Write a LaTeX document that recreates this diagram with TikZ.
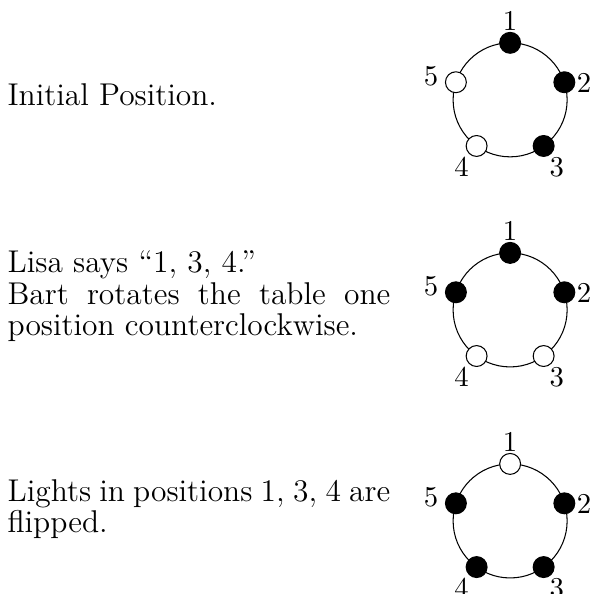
\documentclass[tikz,border=0pt]{standalone}
\usetikzlibrary{calc}
\tikzset{
  tablering/.style={draw, circle, minimum size=1.528cm, inner sep=0pt},
  lamp/.style={draw, circle, minimum size=0.28cm, inner sep=0pt},
  lampnum/.style={inner sep=0pt, font=\fontsize{10.95}{13}\selectfont},
  caption/.style={anchor=north west, inner sep=0pt, text width=5.13cm, align=justify,
    font=\fontsize{12}{12}\selectfont}
}
\begin{document}
\begin{tikzpicture}[line cap=round, line join=round]
  \useasboundingbox (0,0) rectangle (7.94,7.96);
  % one table per step: 100 = light on, 0 = light off
  \foreach \r/\y/\states in {1/6.622/{100,100,100,0,0}, 2/3.807/{100,100,0,0,100}, 3/0.979/{0,100,100,100,100}} {
    \node[tablering] (tab\r) at (6.836,\y) {};
    \foreach \ang/\lang/\lrad [count=\i] in {90/90/1.059, 18/12.9/1.018, -54/-55.4/1.099,
        -126/-125.9/1.109, 162/163.1/1.107} {
      \pgfmathtruncatemacro\pct{{\states}[\i-1]}
      \node[lamp, fill=black!\pct] (lamp\r-\i) at ($(tab\r)+(\ang:0.764)$) {};
      \node[lampnum] (num\r-\i) at ($(tab\r)+(\lang:\lrad)$) {\i};
    }
  }
  \node[caption] (cap1) at (0.094,6.847) {Initial Position.};
  \node[caption] (cap2) at (0.094,4.605) {Lisa says ``1, 3, 4.''\\
    Bart rotates the table one position counterclockwise.};
  \node[caption] (cap3) at (0.094,1.539) {Lights in positions 1, 3, 4 are flipped.};
\end{tikzpicture}
\end{document}
